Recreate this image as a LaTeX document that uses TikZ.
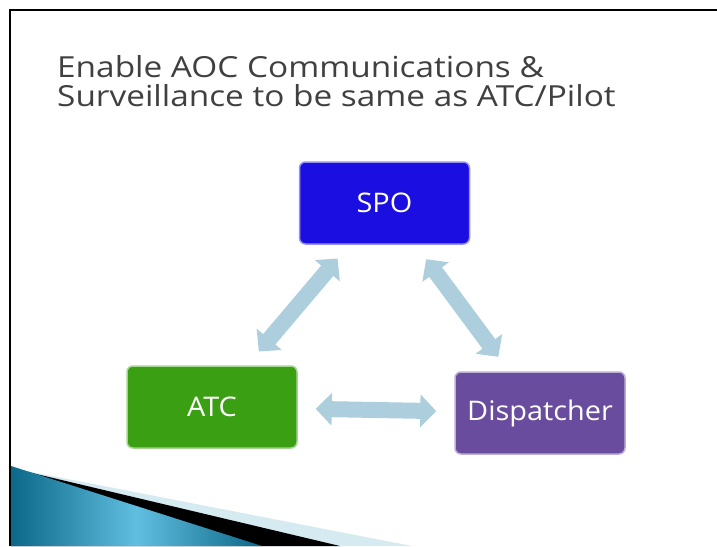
\documentclass[tikz,border=0pt]{standalone}
\usepackage{fontspec}
\setmainfont{Open Sans}
\newfontfamily\titlefont[FakeStretch=1.15]{Open Sans}
\newfontfamily\boxfont[FakeStretch=1.07]{Open Sans}
\usepackage{xcolor}
\usetikzlibrary{arrows.meta}
\definecolor{spoblue}{RGB}{26,15,224}
\definecolor{atcgreen}{RGB}{58,159,19}
\definecolor{disppurple}{RGB}{106,76,159}
\definecolor{arrowblue}{RGB}{173,207,221}
\definecolor{titlegray}{RGB}{64,64,64}
\definecolor{swdark}{RGB}{12,104,136}
\definecolor{swlight}{RGB}{96,190,224}
\definecolor{swpale}{RGB}{214,234,241}
\tikzset{
  box/.style={draw, rounded corners=6pt, line width=1.5pt, align=center, minimum width=170pt, minimum height=82pt, inner sep=0pt, text=white, font=\boxfont\fontsize{27}{30}\selectfont},
  spobox/.style={box, fill=spoblue, draw=spoblue!45!white},
  atcbox/.style={box, fill=atcgreen, draw=atcgreen!45!white},
  dispbox/.style={box, fill=disppurple, draw=disppurple!45!white},
  arr/.style={{Triangle[width=32pt,length=16pt]}-{Triangle[width=32pt,length=16pt]}, line width=16pt, draw=arrowblue, shorten <=18pt, shorten >=18pt},
  ttl/.style={anchor=base west, align=left, inner sep=0pt, text=titlegray, font=\titlefont\fontsize{29}{29}\selectfont}}

\begin{document}
\begin{tikzpicture}[x=1pt, y=-1pt]
  \useasboundingbox[fill=white] (0,0) rectangle (717,546);
  % swoosh in the lower left corner
  \fill[swpale] (11,468) -- (412,546) -- (11,546) -- cycle;
  \fill[black] (11,468) -- (340,546) -- (11,546) -- cycle;
  \shade[left color=swdark, right color=swdark, middle color=swlight] (11,466) -- (262,546) -- (11,546) -- cycle;
  % frame
  \draw[line width=2pt] (10,546) -- (10,10) -- (717,10);
  \node[ttl] (title) at (57,106) {Enable AOC Communications \&\\Surveillance to be same as ATC/Pilot};
  \node[spobox] (spo) at (384.5,203) {SPO};
  \node[atcbox] (atc) at (212,407) {ATC};
  \node[dispbox] (disp) at (540,413) {Dispatcher};
  \draw[arr] (atc) -- (spo);
  \draw[arr] (spo) -- (disp);
  \draw[arr] (atc) -- (disp);
\end{tikzpicture}
\end{document}
